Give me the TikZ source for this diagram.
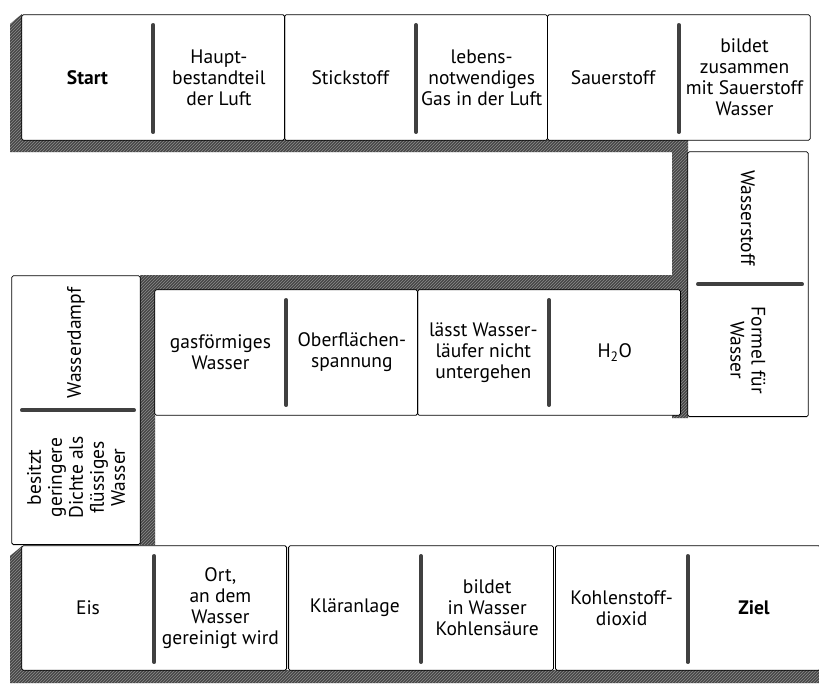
\documentclass[tikz,border=0pt]{standalone}
\usepackage{fontspec}
\setmainfont{PT Sans}
\usetikzlibrary{positioning,fit,calc,patterns}

\begin{document}
\begin{tikzpicture}[
    x=1pt, y=-1pt,
    field/.style={rectangle, fill=white, minimum width=131pt, minimum height=125pt, inner sep=2pt, align=center, font=\fontsize{19.5}{21}\selectfont},
    lowfield/.style={field, minimum width=132pt, minimum height=124pt},
    downfield/.style={field, minimum width=132pt, minimum height=120pt, rotate=-90},
    upfield/.style={field, minimum width=134pt, minimum height=128pt, rotate=90},
    domino/.style={rectangle, draw, line width=0.8pt, inner sep=0pt, rounded corners=1.5pt},
    bar/.style={line width=3.5pt, draw=black!75, line cap=round},
    shade/.style={preaction={fill=black!72}, pattern=north east lines, pattern color=black!45}
]
    \useasboundingbox (0,0) rectangle (819,683);

    % shadows
    \fill[shade] (10,24) -- (22,14) -- (22,140) -- (688,140) -- (688,418) -- (672,418) -- (672,290)
        -- (155,290) -- (155,545) -- (140,545) -- (140,275) -- (672,275) -- (672,152) -- (10,152) -- cycle;
    \fill[shade] (10,556) -- (22,546) -- (22,670) -- (819,670) -- (819,683) -- (10,683) -- cycle;

    % top row
    \node[field] (start) at (87.5,77.5) {\textbf{Start}};
    \node[field, right=0pt of start] (haupt) {Haupt-\\bestandteil\\der Luft};
    \node[field, right=0pt of haupt] (stick) {Stickstoff};
    \node[field, right=0pt of stick] (lebens) {lebens-\\notwendiges\\Gas in der Luft};
    \node[field, right=0pt of lebens] (sauer) {Sauerstoff};
    \node[field, right=0pt of sauer] (bildet) {bildet\\zusammen\\mit Sauerstoff\\Wasser};

    % right column
    \node[downfield] (wstoff) at (748,218) {Wasserstoff};
    \node[downfield, anchor=west] (formel) at (wstoff.east) {Formel für\\Wasser};

    % middle row
    \node[field] (gas) at (220.5,352.5) {gasförmiges\\Wasser};
    \node[field, right=0pt of gas] (ober) {Oberflächen-\\spannung};
    \node[field, right=0pt of ober] (laeufer) {lässt Wasser-\\läufer nicht\\untergehen};
    \node[field, right=0pt of laeufer] (hzo) {H\textsubscript{2}O};

    % left column
    \node[upfield] (dampf) at (76,343) {Wasserdampf};
    \node[upfield, anchor=east] (dichte) at (dampf.west) {besitzt\\geringere\\Dichte als\\flüssiges\\Wasser};

    % bottom row
    \node[lowfield] (eis) at (88,608) {Eis};
    \node[lowfield, right=0pt of eis] (ort) {Ort,\\an dem\\Wasser\\gereinigt wird};
    \node[lowfield, right=2pt of ort] (klaer) {Kläranlage};
    \node[lowfield, right=0pt of klaer] (saeure) {bildet\\in Wasser\\Kohlensäure};
    \node[lowfield, right=2pt of saeure] (dioxid) {Kohlenstoff-\\dioxid};
    \node[lowfield, right=0pt of dioxid] (ziel) {\textbf{Ziel}};

    % dominoes
    \node[domino, fit=(start)(haupt)] {};
    \node[domino, fit=(stick)(lebens)] {};
    \node[domino, fit=(sauer)(bildet)] {};
    \node[domino, fit=(wstoff)(formel)] {};
    \node[domino, fit=(gas)(ober)] {};
    \node[domino, fit=(laeufer)(hzo)] {};
    \node[domino, fit=(dampf)(dichte)] {};
    \node[domino, fit=(eis)(ort)] {};
    \node[domino, fit=(klaer)(saeure)] {};
    \node[domino, fit=(dioxid)(ziel)] {};

    % dividers
    \draw[bar] ($(start.north east)+(0,10)$) -- ($(start.south east)+(0,-8)$);
    \draw[bar] ($(stick.north east)+(0,10)$) -- ($(stick.south east)+(0,-8)$);
    \draw[bar] ($(sauer.north east)+(0,10)$) -- ($(sauer.south east)+(0,-8)$);
    \draw[bar] ($(wstoff.south east)+(10,0)$) -- ($(wstoff.north east)+(-6,0)$);
    \draw[bar] ($(gas.north east)+(0,10)$) -- ($(gas.south east)+(0,-10)$);
    \draw[bar] ($(laeufer.north east)+(0,10)$) -- ($(laeufer.south east)+(0,-10)$);
    \draw[bar] ($(dampf.north west)+(10,0)$) -- ($(dampf.south west)+(-6,0)$);
    \draw[bar] ($(eis.north east)+(0,10)$) -- ($(eis.south east)+(0,-8)$);
    \draw[bar] ($(klaer.north east)+(0,10)$) -- ($(klaer.south east)+(0,-8)$);
    \draw[bar] ($(dioxid.north east)+(0,10)$) -- ($(dioxid.south east)+(0,-8)$);
\end{tikzpicture}
\end{document}
